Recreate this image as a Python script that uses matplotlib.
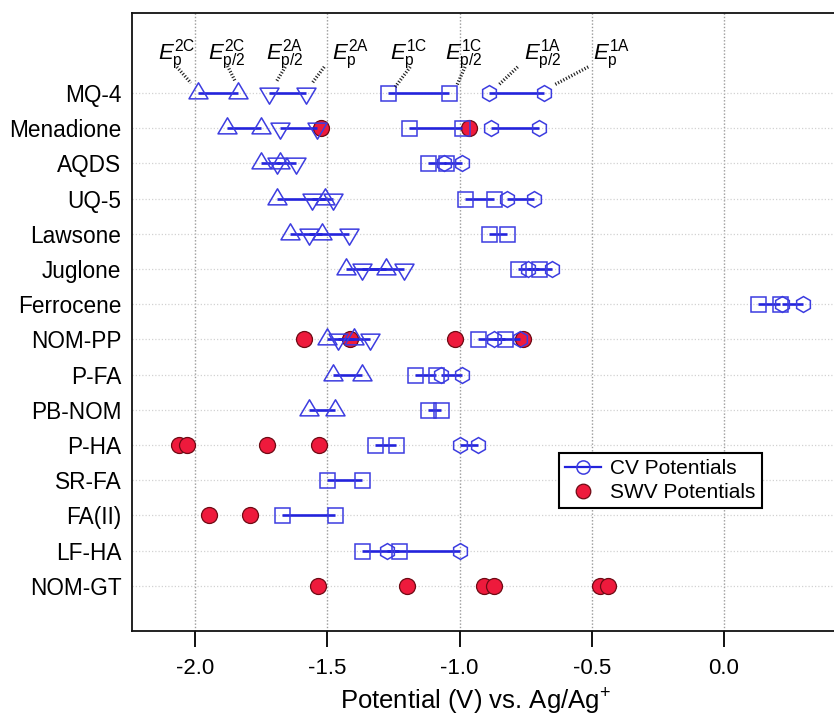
import numpy as np
import matplotlib
matplotlib.use("Agg")
import matplotlib.pyplot as plt
from matplotlib.path import Path
from matplotlib.lines import Line2D

plt.rcParams["font.family"] = ["Liberation Sans", "DejaVu Sans"]
plt.rcParams["mathtext.fontset"] = "custom"
plt.rcParams["mathtext.rm"] = "Liberation Sans"
plt.rcParams["mathtext.it"] = "Liberation Sans:italic"
plt.rcParams["axes.unicode_minus"] = False

nan = np.nan

compounds = ["MQ-4", "Menadione", "AQDS", "UQ-5", "Lawsone", "Juglone",
             "Ferrocene", "NOM-PP", "P-FA", "PB-NOM", "P-HA", "SR-FA",
             "FA(II)", "LF-HA", "NOM-GT"]

# CV potentials (V vs. Ag/Ag+), second wave: cathodic peak / half-peak
ep_2c = [-1.99, -1.88, -1.75, -1.69, -1.64, -1.43, nan, -1.50, -1.48, -1.57,
         nan, nan, nan, nan, nan]
ep2_2c = [-1.84, -1.75, -1.68, -1.51, -1.52, -1.28, nan, -1.40, -1.37, -1.47,
          nan, nan, nan, nan, nan]
# second wave: anodic half-peak / peak
ep2_2a = [-1.72, -1.68, -1.69, -1.56, -1.57, -1.37, nan, -1.46, nan, nan,
          nan, nan, nan, nan, nan]
ep_2a = [-1.58, -1.54, -1.62, -1.48, -1.42, -1.21, nan, -1.34, nan, nan,
         nan, nan, nan, nan, nan]
# first wave: cathodic peak / half-peak
ep_1c = [-1.27, -1.19, -1.12, -0.98, -0.89, -0.78, 0.13, -0.93, -1.17, -1.12,
         -1.32, -1.50, -1.67, -1.37, nan]
ep2_1c = [-1.04, -0.99, -1.05, -0.87, -0.82, -0.70, 0.21, -0.83, -1.09, -1.07,
          -1.24, -1.37, -1.47, -1.23, nan]
# first wave: anodic half-peak / peak
ep2_1a = [-0.89, -0.88, -1.06, -0.82, nan, -0.74, 0.22, -0.87, -1.07, nan,
          -1.00, nan, nan, -1.275, nan]
ep_1a = [-0.68, -0.70, -0.99, -0.72, nan, -0.65, 0.30, -0.77, -0.99, nan,
         -0.93, nan, nan, -1.00, nan]

# SWV peak potentials
swv_compound = ["Menadione", "Menadione",
                "NOM-PP", "NOM-PP", "NOM-PP", "NOM-PP",
                "P-HA", "P-HA", "P-HA", "P-HA",
                "FA(II)", "FA(II)",
                "NOM-GT", "NOM-GT", "NOM-GT", "NOM-GT", "NOM-GT", "NOM-GT"]
swv_value = [-1.524, -0.965,
             -1.59, -1.413, -1.019, -0.762,
             -2.06, -2.03, -1.73, -1.53,
             -1.947, -1.793,
             -1.534, -1.20, -0.908, -0.871, -0.47, -0.438]

xticks = [-2.0, -1.5, -1.0, -0.5, 0.0]
peak_labels = [r"$E_{\mathrm{p}}^{\mathrm{2C}}$", r"$E_{\mathrm{p/2}}^{\mathrm{2C}}$",
               r"$E_{\mathrm{p/2}}^{\mathrm{2A}}$", r"$E_{\mathrm{p}}^{\mathrm{2A}}$",
               r"$E_{\mathrm{p}}^{\mathrm{1C}}$", r"$E_{\mathrm{p/2}}^{\mathrm{1C}}$",
               r"$E_{\mathrm{p/2}}^{\mathrm{1A}}$", r"$E_{\mathrm{p}}^{\mathrm{1A}}$"]

BLUE_LINE = "#2323dc"
BLUE_MARK = "#3c3ce0"
RED = "#ee1a3c"
RED_EDGE = "#6e0a14"

n = len(compounds)
ypos = {c: n - i for i, c in enumerate(compounds)}
ys = np.array([ypos[c] for c in compounds], dtype=float)

# centroid-centred triangles
tri_up = Path([(0, 10.7), (-9.5, -5.35), (9.5, -5.35), (0, 10.7)],
              [Path.MOVETO, Path.LINETO, Path.LINETO, Path.CLOSEPOLY])
tri_dn = Path([(0, -10.7), (-9.5, 5.35), (9.5, 5.35), (0, -10.7)],
              [Path.MOVETO, Path.LINETO, Path.LINETO, Path.CLOSEPOLY])
tri_ms = 2 * 10.7 * 0.72

fig = plt.figure(figsize=(8.34, 7.21), dpi=100)
W, H = 834.0, 721.0
ax = fig.add_axes([131.7 / W, 90 / H, (W - 131.7) / W, (631 - 13) / H])
ax.set_xlim(-2.2402, 0.416)
ax.set_ylim(-0.284, 17.27)

# background grid
for xv in xticks:
    ax.axvline(xv, color="#9a9a9a", lw=1.0, ls=(0, (1, 1.4)), zorder=0)
for yv in ys:
    ax.axhline(yv, color="#d2d2d2", lw=0.9, ls=(0, (1, 1.6)), zorder=0)

# SWV points underneath the CV markers
ax.plot(swv_value, [ypos[c] for c in swv_compound], ls="none", marker="o",
        ms=11.5, mfc=RED, mec=RED_EDGE, mew=0.9, zorder=2)

pairs = [(ep_2c, ep2_2c, tri_up, tri_ms),
         (ep2_2a, ep_2a, tri_dn, tri_ms),
         (ep_1c, ep2_1c, "s", 10.8),
         (ep2_1a, ep_1a, "h", 11.4)]
for a, b, mk, ms in pairs:
    a = np.asarray(a, dtype=float)
    b = np.asarray(b, dtype=float)
    for ai, bi, yi in zip(a, b, ys):
        if np.isfinite(ai) and np.isfinite(bi):
            ax.plot([ai, bi], [yi, yi], color=BLUE_LINE, lw=1.9,
                    solid_capstyle="butt", zorder=3)
    vals = np.concatenate([a, b])
    yy = np.concatenate([ys, ys])
    ok = np.isfinite(vals)
    ax.plot(vals[ok], yy[ok], ls="none", marker=mk, ms=ms, mfc="none",
            mec=BLUE_MARK, mew=1.1, zorder=4)

# labels above the MQ-4 row with dotted leaders
mq = compounds.index("MQ-4")
mq_vals = [ep_2c[mq], ep2_2c[mq], ep2_2a[mq], ep_2a[mq],
           ep_1c[mq], ep2_1c[mq], ep2_1a[mq], ep_1a[mq]]
text_off = [(-40, 33), (-30, 33), (-3, 33), (26, 33),
            (2, 33), (-4, 33), (35, 33), (49, 33)]
lead_start = [(-21, 26), (-10, 27), (16, 26), (18, 26),
              (22, 26), (16, 26), (29, 26), (44, 26)]
lead_end = [(-7, 10), (-2, 11), (7, 11), (6, 10),
            (7, 6), (8, 8), (10, 8), (10, 8)]
to_px = ax.transData
to_data = ax.transData.inverted()
y_mq = ypos["MQ-4"]
for lab, v, to, ls_, le in zip(peak_labels, mq_vals, text_off, lead_start, lead_end):
    p = to_px.transform((v, y_mq))
    t = to_data.transform(p + np.array(to))
    ax.text(t[0], t[1], lab, fontsize=16, ha="left", va="baseline", zorder=5)
    s = to_data.transform(p + np.array(ls_))
    e = to_data.transform(p + np.array(le))
    ax.plot([s[0], e[0]], [s[1], e[1]], color="#222222", lw=2.4,
            ls=(0, (0.35, 0.55)), solid_capstyle="butt", zorder=5)

# axes styling
ax.set_xticks(xticks)
ax.set_xticklabels([f"{v:.1f}" for v in xticks])
ax.set_yticks(ys)
ax.set_yticklabels(compounds)
ax.tick_params(axis="x", length=11.5, width=1.4, pad=8, labelsize=16, color="#111111")
ax.tick_params(axis="y", length=0, pad=7.5, labelsize=16.3)
for side in ("top", "left", "bottom"):
    ax.spines[side].set_linewidth(1.3)
    ax.spines[side].set_color("#111111")
ax.spines["right"].set_visible(False)
ax.set_xlabel("Potential (V) vs. Ag/Ag$^{+}$", fontsize=18.5, labelpad=6)
ax.xaxis.set_label_coords((475.5 - 131.7) / (W - 131.7), -0.09)

handles = [Line2D([], [], color=BLUE_LINE, lw=1.6, marker="o", ms=9.5,
                  mfc="none", mec=BLUE_MARK, mew=1.1),
           Line2D([], [], ls="none", marker="o", ms=10.5, mfc=RED,
                  mec=RED_EDGE, mew=0.9)]
leg = fig.legend(handles, ["CV Potentials", "SWV Potentials"],
                 loc="upper left", bbox_to_anchor=(559 / W, 1 - 453 / H),
                 fontsize=15, frameon=True, fancybox=False, framealpha=1,
                 edgecolor="black", handlelength=1.7, handletextpad=0.45,
                 borderpad=0.3, labelspacing=0.22, borderaxespad=0)
leg.get_frame().set_linewidth(1.5)

fig.savefig("out.png", dpi=100)
